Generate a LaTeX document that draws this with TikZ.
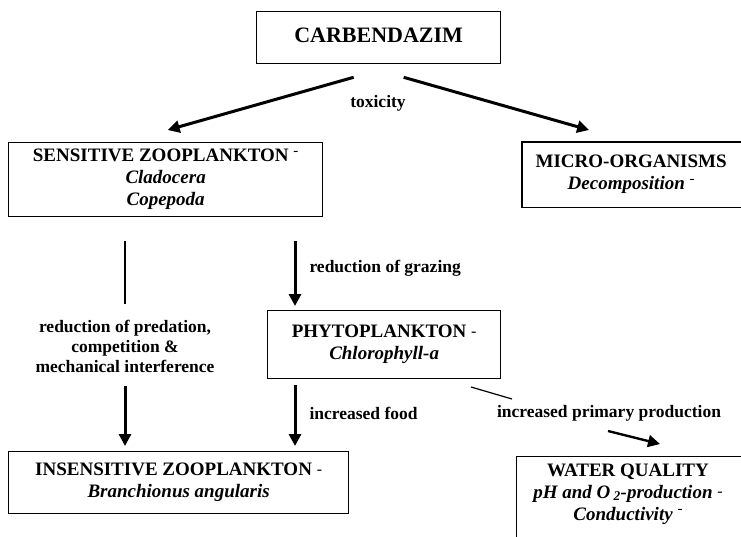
\documentclass[tikz,border=0pt]{standalone}
\usepackage{fontspec}
\setmainfont{Liberation Serif}
\usetikzlibrary{arrows.meta}
\newcommand{\updash}{\raisebox{0.75ex}{\normalfont\fontsize{15}{15}\selectfont -}}
\newcommand{\middash}{\raisebox{0.15ex}{\normalfont\fontsize{16}{16}\selectfont -}}
\begin{document}
\begin{tikzpicture}[x=1pt,y=-1pt,
  box/.style={draw,line width=1.3pt,inner sep=0pt,align=center,anchor=north west,
    font=\bfseries\fontsize{19}{22}\selectfont},
  lbl/.style={font=\bfseries\fontsize{17.5}{20}\selectfont,align=center},
  bigarrow/.style={line width=3pt,-{Triangle[length=12pt,width=12pt]}},
  thinline/.style={line width=1.2pt}]
\clip (0,0) rectangle (741,537);
%\draw (0,0) grid[step=50] (741,537);
% boxes
\node[box,minimum width=244pt,minimum height=52pt,font=\bfseries\fontsize{22}{24}\selectfont] (carb) at (256,11) {\raisebox{5pt}{CARBENDAZIM}};
\node[box,minimum width=314pt,minimum height=74pt] (sens) at (8,142) {SENSITIVE ZOOPLANKTON \updash\\ \textit{Cladocera}\\ \textit{Copepoda}};
\node[box,draw=none,minimum width=217pt,minimum height=64pt] (micro) at (522,142) {MICRO-ORGANISMS\\ \textit{Decomposition} \updash};
\draw[line width=1.3pt] ([xshift=20pt]micro.north east) -- (micro.north west) -- (micro.south west) -- ([xshift=20pt]micro.south east);
\node[box,minimum width=233pt,minimum height=68pt] (phyto) at (267,310) {PHYTOPLANKTON \middash\\ \textit{Chlorophyll-a}};
\node[box,minimum width=340pt,minimum height=62pt] (insens) at (8,451) {INSENSITIVE ZOOPLANKTON \middash\\ \textit{Branchionus angularis}};
\node[box,minimum width=250pt,minimum height=100pt] (water) at (516,456) {};
\node[font=\bfseries\fontsize{19}{22}\selectfont,align=center,anchor=north] (watertxt) at (628,460)
  {WATER QUALITY\\ \textit{pH and O\,\textsubscript{2}-production} \middash\\ \textit{Conductivity} \updash};
% labels
\node[lbl] (tox) at (378,103) {toxicity};
\node[lbl] (pred) at (125,346) {reduction of predation,\\ competition \&\\ mechanical interference};
\node[lbl,anchor=west] (graz) at (306,268) {reduction of grazing};
\node[lbl,anchor=west] (food) at (306,413) {increased food};
\node[lbl] (prod) at (609,413) {increased primary production};
\coordinate (mid) at ([xshift=28pt]phyto.north west);
\coordinate (p1) at (471,387);
\coordinate (p2) at (512,399);
\coordinate (p3) at (608,431);
\coordinate (p4) at (660,444);
% arrows
\draw[bigarrow] ([xshift=-25pt,yshift=-13pt]carb.south) -- ([xshift=2pt,yshift=12pt]sens.north);
\draw[bigarrow] ([xshift=25pt,yshift=-13pt]carb.south) -- ([xshift=-42pt,yshift=12pt]micro.north);
\draw[thinline,shorten <=24pt,shorten >=12pt] (sens.south -| pred.north) -- (pred.north);
\draw[bigarrow,shorten <=10pt,shorten >=5pt] (pred.south) -- (insens.north -| pred.south);
\draw[bigarrow,shorten <=24pt,shorten >=4pt] (sens.south -| mid) -- (mid);
\draw[bigarrow,shorten <=6pt,shorten >=5pt] (phyto.south -| mid) -- (insens.north -| mid);
\draw[thinline] (p1) -- (p2);
\draw[bigarrow,line width=2.4pt] (p3) -- (p4);
\end{tikzpicture}
\end{document}
